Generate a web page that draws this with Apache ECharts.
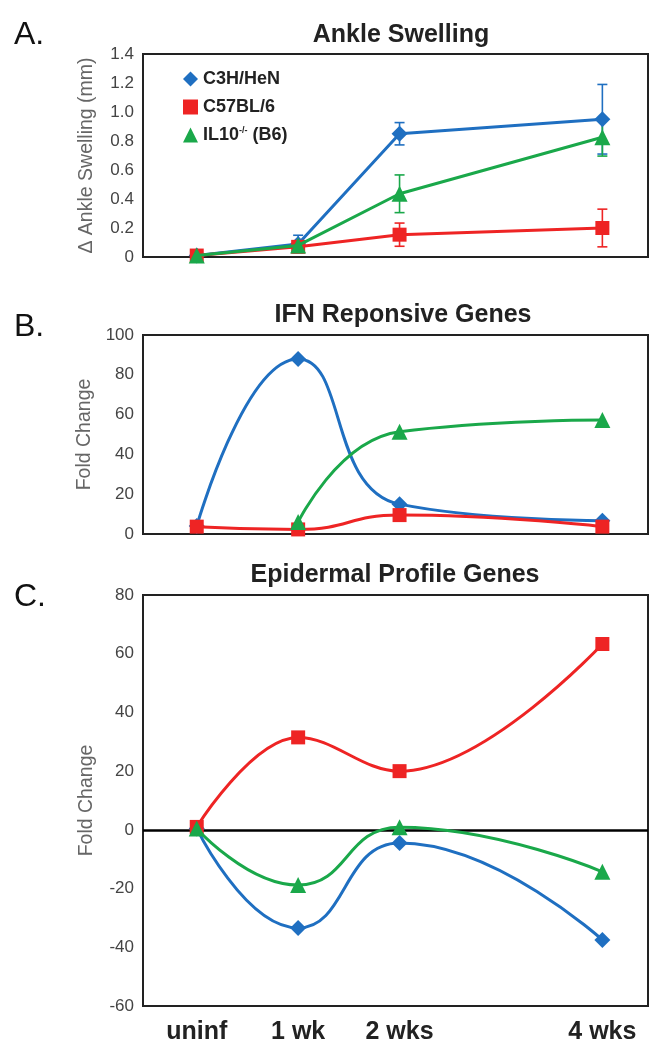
<!DOCTYPE html>
<html><head><meta charset="utf-8">
<script src="https://cdn.jsdelivr.net/npm/echarts@6/dist/echarts.min.js"></script>
<style>html,body{margin:0;padding:0;background:#fff}#c{width:663px;height:1058px}</style>
</head><body><div id="c"></div>
<script>
// ---- data ----
const weeks = [0, 1, 2, 4];
const tickLabels = ['uninf', '1 wk', '2 wks', '4 wks'];
const seriesNames = ['C3H/HeN', 'C57BL/6', 'IL10-/- (B6)'];

const ankleC3H = [0.01, 0.09, 0.85, 0.95];
const ankleC3HErr = [0, 0.06, 0.077, 0.24];
const ankleB6 = [0.01, 0.07, 0.154, 0.20];
const ankleB6Err = [0, 0.03, 0.08, 0.13];
const ankleIL10 = [0.01, 0.08, 0.436, 0.826];
const ankleIL10Err = [0, 0.03, 0.13, 0.13];

const ifnC3H = [4, 88, 15, 6.7];
const ifnB6 = [3.7, 2.3, 9.5, 3.7];
const ifnIL10 = [null, 6, 51.4, 57.3];

const epiC3H = [0.5, -33.4, -4.5, -37.5];
const epiB6 = [1, 31.5, 20, 63.3];
const epiIL10 = [0.5, -18.8, 0.9, -14.3];

// ---- styling ----
const colors = ['#1f6fc1', '#ee2424', '#1aa84a'];
const symbols = ['diamond', 'rect', 'triangle'];
const symSizes = [16, 14, 16];
const font = 'Liberation Sans, Arial, sans-serif';

const pairs = (ys) => weeks.map((w, i) => [w, ys[i]]);
const errPairs = (ys, es) => weeks.map((w, i) => [w, ys[i], es[i]]);

const grids = [
  {left: 143, top: 54, width: 505, height: 203},
  {left: 143, top: 335, width: 505, height: 199},
  {left: 143, top: 595, width: 505, height: 411}
];
grids.forEach(g => { g.show = true; g.borderColor = '#222'; g.borderWidth = 2; g.backgroundColor = 'transparent'; });

const xAxes = grids.map((g, i) => ({
  type: 'value', gridIndex: i, min: -0.53, max: 4.45,
  splitLine: {show: false},
  axisLine: {show: true, onZero: false, lineStyle: {color: '#222', width: 2}},
  axisTick: {show: false},
  axisLabel: i === 2 ? {
    show: true, customValues: weeks, margin: 14,
    fontFamily: font, fontWeight: 'bold', fontSize: 25, color: '#222',
    formatter: v => tickLabels[weeks.indexOf(v)]
  } : {show: false}
}));

const yAxisBase = (i, min, max, interval, name, fmt) => ({
  type: 'value', gridIndex: i, min, max, interval,
  name, nameLocation: 'middle', nameGap: 46,
  nameTextStyle: {fontFamily: font, fontSize: 19.5, color: '#666'},
  splitLine: {show: false},
  axisLine: {show: true, onZero: false, lineStyle: {color: '#222', width: 2}},
  axisTick: {show: false},
  axisLabel: {fontFamily: font, fontSize: 17, color: '#444', margin: 9, formatter: fmt}
});

const yAxes = [
  yAxisBase(0, 0, 1.4, 0.2, 'Δ Ankle Swelling (mm)', v => v === 0 ? '0' : v.toFixed(1)),
  yAxisBase(1, 0, 100, 20, 'Fold Change', v => String(v)),
  yAxisBase(2, -60, 80, 20, 'Fold Change', v => String(v))
];

function lineSeries(idx, gi, ys, smooth) {
  return {
    type: 'line', name: seriesNames[idx], xAxisIndex: gi, yAxisIndex: gi,
    data: pairs(ys), smooth: smooth, connectNulls: false,
    symbol: symbols[idx], symbolSize: symSizes[idx],
    lineStyle: {color: colors[idx], width: 3},
    itemStyle: {color: colors[idx]},
    z: 3 + idx, emphasis: {disabled: true}, animation: false
  };
}
function errSeries(idx, ys, es) {
  return {
    type: 'custom', xAxisIndex: 0, yAxisIndex: 0, z: 2, animation: false, silent: true,
    data: errPairs(ys, es),
    renderItem: (params, api) => {
      const x = api.value(0), y = api.value(1), e = api.value(2);
      if (!e) return null;
      const top = api.coord([x, y + e]), bot = api.coord([x, y - e]);
      const st = {stroke: colors[idx], lineWidth: 1.6};
      return {type: 'group', children: [
        {type: 'line', shape: {x1: top[0], y1: top[1], x2: bot[0], y2: bot[1]}, style: st},
        {type: 'line', shape: {x1: top[0] - 5, y1: top[1], x2: top[0] + 5, y2: top[1]}, style: st},
        {type: 'line', shape: {x1: bot[0] - 5, y1: bot[1], x2: bot[0] + 5, y2: bot[1]}, style: st}
      ]};
    }
  };
}

const series = [
  errSeries(0, ankleC3H, ankleC3HErr),
  errSeries(2, ankleIL10, ankleIL10Err),
  errSeries(1, ankleB6, ankleB6Err),
  lineSeries(0, 0, ankleC3H, false),
  lineSeries(2, 0, ankleIL10, false),
  lineSeries(1, 0, ankleB6, false),
  lineSeries(0, 1, ifnC3H, 0.5),
  lineSeries(2, 1, ifnIL10, 0.5),
  lineSeries(1, 1, ifnB6, 0.5),
  lineSeries(0, 2, epiC3H, 0.5),
  lineSeries(2, 2, epiIL10, 0.5),
  Object.assign(lineSeries(1, 2, epiB6, 0.4), {
    markLine: {silent: true, symbol: 'none', label: {show: false}, animation: false,
      lineStyle: {color: '#000', width: 2.5, type: 'solid'}, data: [{yAxis: 0}], z: 1}
  })
];

const titleStyle = {fontFamily: font, fontWeight: 'bold', fontSize: 25, color: '#222'};
const letterStyle = {fontFamily: font, fontWeight: 'normal', fontSize: 32, color: '#111'};

const option = {
  animation: false,
  title: [
    {text: 'Ankle Swelling', left: 396, top: 18, textAlign: 'center', textStyle: titleStyle},
    {text: 'IFN Reponsive Genes', left: 398, top: 298, textAlign: 'center', textStyle: titleStyle},
    {text: 'Epidermal Profile Genes', left: 390, top: 558, textAlign: 'center', textStyle: titleStyle},
    {text: 'A.', left: 9, top: 14, textStyle: letterStyle},
    {text: 'B.', left: 9, top: 306, textStyle: letterStyle},
    {text: 'C.', left: 9, top: 576, textStyle: letterStyle}
  ],
  legend: {
    orient: 'vertical', left: 178, top: 65, itemWidth: 15, itemHeight: 15, itemGap: 10,
    selectedMode: false,
    data: seriesNames.map((n, i) => ({name: n, icon: symbols[i]})),
    formatter: n => n === seriesNames[2] ? 'IL10{sup|-/-} (B6)' : n,
    textStyle: {fontFamily: font, fontWeight: 'bold', fontSize: 18, color: '#222',
      rich: {sup: {fontSize: 9, verticalAlign: 'top', fontFamily: font, color: '#222', padding: [0, 0, 8, 0]}}}
  },
  grid: grids, xAxis: xAxes, yAxis: yAxes, series
};
const chart = echarts.init(document.getElementById('c'), null, {renderer: 'canvas'});
chart.setOption(option);
</script></body></html>
